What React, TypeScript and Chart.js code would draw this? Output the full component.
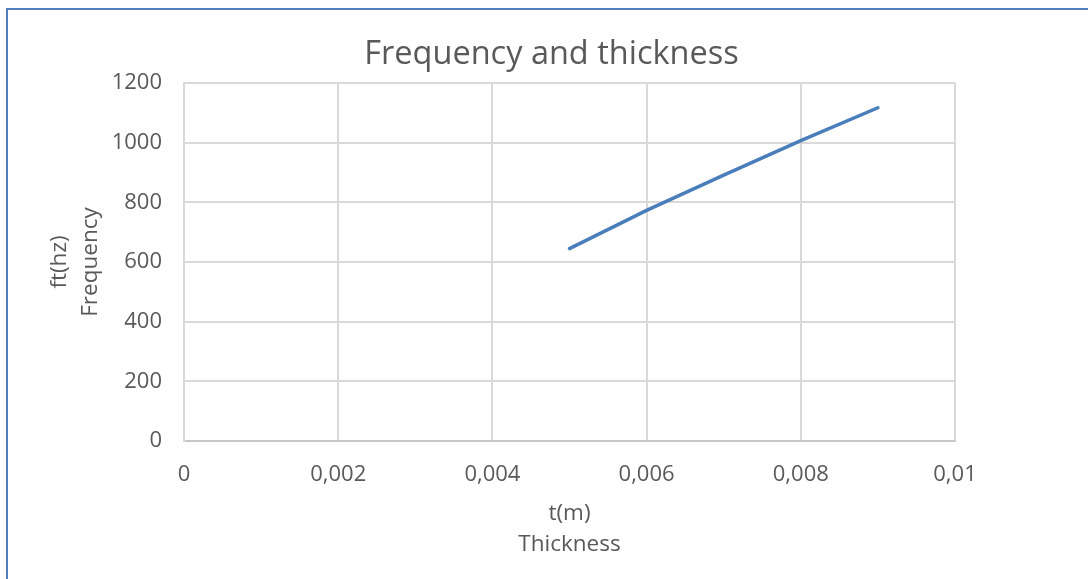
import { useEffect, useRef } from "react";
import { Chart, registerables } from "chart.js";

Chart.register(...registerables);

// Measured plate thickness (m) and the resulting frequency (Hz)
const thickness = [0.005, 0.006, 0.007, 0.008, 0.009];
const frequency = [645, 773, 891, 1007, 1117];

const xTickStep = 0.002;
const xRange = [0, 0.01];
const yTickStep = 200;
const yRange = [0, 1200];

const chartTitle = "Frequency and thickness";
const xTitle = ["t(m)", "Thickness"];
const yTitle = ["ft(hz)", "Frequency"];

const FONT = "'Open Sans', sans-serif";
const TEXT = "#595959";
const GRID = "#d9d9d9";

// decimal comma, e.g. 0,002
const fmtTick = (v: number) => String(Number(v.toFixed(4))).replace(".", ",");

export default function App() {
  const ref = useRef<HTMLCanvasElement>(null);

  useEffect(() => {
    if (!ref.current) return;
    const chart = new Chart(ref.current, {
      type: "line",
      data: {
        datasets: [
          {
            data: thickness.map((x, i) => ({ x, y: frequency[i] })),
            borderColor: "#4a7ebb",
            borderWidth: 3.5,
            borderCapStyle: "round",
            borderJoinStyle: "round",
            pointRadius: 0,
            tension: 0,
          },
        ],
      },
      options: {
        animation: false,
        responsive: false,
        layout: { padding: { left: 15, right: 0, top: 20, bottom: 0 } },
        plugins: {
          legend: { display: false },
          tooltip: { enabled: false },
          title: {
            display: true,
            text: chartTitle,
            color: TEXT,
            font: { family: FONT, size: 32.5, weight: "normal", lineHeight: 36 / 32.5 },
            padding: { top: 17, bottom: 10 },
          },
        },
        scales: {
          x: {
            type: "linear",
            min: xRange[0],
            max: xRange[1],
            ticks: {
              stepSize: xTickStep,
              padding: 21,
              color: TEXT,
              font: { family: FONT, size: 22 },
              callback: (v) => fmtTick(Number(v)),
            },
            grid: { color: GRID, lineWidth: 2, drawTicks: false },
            border: { color: "#c8c8c8", width: 2 },
            title: {
              display: true,
              text: xTitle,
              color: TEXT,
              font: { family: FONT, size: 22.5, lineHeight: 31 / 22.5 },
              padding: { top: 0, bottom: 18.5 },
            },
            afterFit: (s) => {
              s.height = 138;
            },
          },
          y: {
            type: "linear",
            min: yRange[0],
            max: yRange[1],
            ticks: {
              stepSize: yTickStep,
              padding: 22,
              color: TEXT,
              font: { family: FONT, size: 22 },
              callback: (v) => String(v),
            },
            grid: { color: GRID, lineWidth: 2, drawTicks: false },
            border: { color: GRID, width: 2 },
            title: {
              display: true,
              text: yTitle,
              color: TEXT,
              font: { family: FONT, size: 22.5, lineHeight: 31 / 22.5 },
              padding: { top: 29, bottom: 0 },
            },
            afterFit: (s) => {
              s.width = 169;
            },
          },
          // empty right-hand margin box
          y2: {
            type: "linear",
            position: "right",
            display: true,
            grid: { display: false },
            ticks: { display: false },
            border: { display: false },
            afterFit: (s) => {
              s.width = 133;
            },
          },
        },
      },
    });
    return () => chart.destroy();
  }, []);

  return (
    <div
      style={{
        position: "absolute",
        left: 0,
        top: 0,
        width: 1088,
        height: 579,
        overflow: "hidden",
        background: "#ffffff",
      }}
    >
      <div
        style={{
          position: "absolute",
          left: 6,
          top: 8,
          width: 1200,
          height: 700,
          border: "2px solid #4f7fbf",
        }}
      />
      <canvas
        ref={ref}
        width={1088}
        height={579}
        style={{ position: "absolute", left: 0, top: 0, width: 1088, height: 579 }}
      />
    </div>
  );
}
